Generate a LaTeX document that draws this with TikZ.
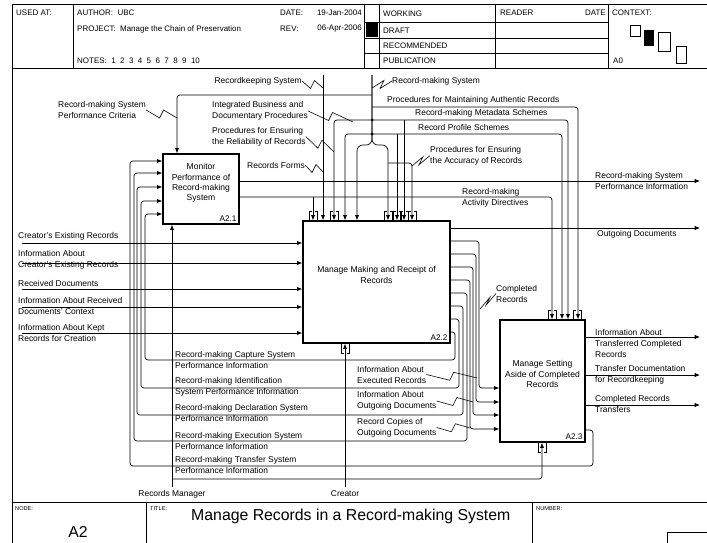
\documentclass[tikz,border=0pt]{standalone}
\usepackage{fontspec}
\setmainfont{Liberation Sans}
\usetikzlibrary{positioning,arrows.meta,calc}
\newcommand{\squig}[2]{\draw[leader] (#1) -- ($(#1)!0.5!(#2)+(-2,4)$) -- ($(#1)!0.5!(#2)+(2,-4)$) -- (#2);}
\newcommand{\tunneldn}[2]{\draw[tunnel] (#1-4,#2-1) -- (#1-4,#2-10) -- (#1-1.5,#2-10) (#1+4,#2-1) -- (#1+4,#2-10) -- (#1+1.5,#2-10);}
\newcommand{\tunnelup}[2]{\draw[tunnel] (#1-4,#2+1) -- (#1-4,#2+10) -- (#1-1.5,#2+10) (#1+4,#2+1) -- (#1+4,#2+10) -- (#1+1.5,#2+10);}

\begin{document}
\begin{tikzpicture}[x=0.03cm,y=-0.03cm,
    box/.style={draw,line width=1.1pt,inner sep=0pt},
    boxtxt/.style={align=center,inner sep=0pt,font=\fontsize{7.3}{8.8}\selectfont},
    boxid/.style={anchor=south east,inner sep=0pt,font=\fontsize{7}{8}\selectfont},
    arr/.style={-{Latex[length=4.5pt,width=3.6pt]},line width=0.6pt,rounded corners=2.5pt},
    leader/.style={line width=0.5pt},
    tunnel/.style={line width=0.4pt},
    lbl/.style={anchor=west,align=left,inner sep=0pt,font=\fontsize{7.2}{9.4}\selectfont},
    hdr/.style={anchor=west,inner sep=0pt,font=\fontsize{6.8}{8}\selectfont},
    tiny/.style={anchor=north west,inner sep=0pt,font=\fontsize{4.8}{5}\selectfont},
    frame/.style={line width=0.8pt}
]
\useasboundingbox (0,0) rectangle (707,543);

% title block
\draw[frame] (12,4) -- (707,4) (12,68) -- (707,68) (12,4) -- (12,543);
\draw[frame] (73,4) -- (73,68) (364,4) -- (364,68) (379,4) -- (379,68)
             (495,4) -- (495,68) (608,4) -- (608,68);
\draw[frame] (364,22) -- (608,22) (364,38) -- (608,38) (364,53) -- (608,53);
\fill (365.5,23.5) rectangle (378,37);
\node[hdr] (usedat) at (16,13) {USED AT:};
\node[hdr] (author) at (77,13) {AUTHOR:\ \ UBC};
\node[hdr] (project) at (77,29) {PROJECT:\ \ Manage the Chain of Preservation};
\node[hdr] (notes) at (77,61) {NOTES:\ \ 1\ \ 2\ \ 3\ \ 4\ \ 5\ \ 6\ \ 7\ \ 8\ \ 9\ \ 10};
\node[hdr] (date) at (280,13) {DATE:};
\node[hdr,anchor=east] (dateval) at (362,13) {19-Jan-2004};
\node[hdr] (rev) at (280,29) {REV:};
\node[hdr,anchor=east] (revval) at (362,29) {06-Apr-2006};
\node[hdr] (working) at (383,13.5) {WORKING};
\node[hdr] (draft) at (383,30.5) {DRAFT};
\node[hdr] (recomm) at (383,45.5) {RECOMMENDED};
\node[hdr] (publ) at (383,61) {PUBLICATION};
\node[hdr] (reader) at (500,13) {READER};
\node[hdr,anchor=east] (rdate) at (606,13) {DATE};
\node[hdr] (context) at (612,13) {CONTEXT:};
\node[hdr] (ctxnode) at (613,61) {A0};
\draw[line width=0.6pt] (630,25) rectangle (640,36);
\fill (644,30) rectangle (654,46);
\draw[line width=0.6pt] (658,32) rectangle (670,51);
\draw[line width=0.6pt] (676,46) rectangle (686,63);

\draw[frame] (12,502) -- (707,502) (146,502) -- (146,543) (532,502) -- (532,543);
\draw[frame] (667,532) rectangle (712,548);
\node[tiny] (nodelbl) at (15,506) {NODE:};
\node[font=\fontsize{13.5}{15}\selectfont,inner sep=0pt] (nodeid) at (78,532) {A2};
\node[tiny] (titlelbl) at (150,506) {TITLE:};
\node[anchor=west,inner sep=0pt,font=\fontsize{13.5}{15}\selectfont] (title) at (191,516) {Manage Records in a Record-making System};
\node[tiny] (numlbl) at (536,506) {NUMBER:};

% activities
\node[box,minimum width=2.28cm,minimum height=2.1cm] (a21) at (201,189) {};
\node[boxtxt] (a21t) at (201,183) {Monitor\\Performance of\\Record-making\\System};
\node[boxid] (a21id) at ($(a21.south east)+(-3,-3)$) {A2.1};
\node[box,minimum width=4.41cm,minimum height=3.66cm] (a22) at (376.5,282) {};
\node[boxtxt] (a22t) at (376.5,275) {Manage Making and Receipt of\\Records};
\node[boxid] (a22id) at ($(a22.south east)+(-3,-3)$) {A2.2};
\node[box,minimum width=2.55cm,minimum height=3.66cm] (a23) at (542.5,381) {};
\node[boxtxt] (a23t) at (542.5,374) {Manage Setting\\Aside of Completed\\Records};
\node[boxid] (a23id) at ($(a23.south east)+(-3,-3)$) {A2.3};

% controls
\coordinate (rks) at (323,75);
\coordinate (rms) at (372,75);
\coordinate (rmsfork) at (372,145);
\draw[arr] (rks) -- (rks |- a22.north);
\draw[arr,rounded corners=5pt] (rms) -- (rmsfork) -| (357,0 |- a22.north);
\draw[arr,rounded corners=5pt] (rms) -- (rmsfork) -| (388,0 |- a22.north);
\draw[arr] (388,163) -| (412,0 |- a22.north);
\draw[arr] (372,95) -| (177,0 |- a21.north);
\draw[arr] (372,107) -| (578,0 |- a23.north);
\draw[arr] (372,120) -| (568,0 |- a23.north);
\draw[arr] (372,120) -| (334,0 |- a22.north);
\draw[arr] (404,120) -- (404,0 |- a22.north);
\draw[arr] (372,134) -| (562,0 |- a23.north);
\draw[arr] (372,134) -| (345,0 |- a22.north);
\draw[arr] (397,134) -- (397,0 |- a22.north);
\fill (372,120) circle[radius=1.5] (372,134) circle[radius=1.5];

\node[lbl,anchor=east] (lrks) at (302,81) {Recordkeeping System};
\node[lbl] (lrms) at (392,81) {Record-making System};
\node[lbl] (lcrit) at (58,110) {Record-making System\\Performance Criteria};
\node[lbl] (lint) at (212,111) {Integrated Business and\\Documentary Procedures};
\node[lbl] (lrel) at (212,136.5) {Procedures for Ensuring\\the Reliability of Records};
\node[lbl] (lforms) at (247,165) {Records Forms};
\node[lbl] (lacc) at (430,155.5) {Procedures for Ensuring\\the Accuracy of Records};
\node[lbl] (lauth) at (387,100.5) {Procedures for Maintaining Authentic Records};
\node[lbl] (lmeta) at (415,113.5) {Record-making Metadata Schemes};
\node[lbl] (lprof) at (418,127.5) {Record Profile Schemes};
\squig{lrks.east}{323,88}
\squig{lrms.west}{372,88}
\squig{lcrit.east}{177,118}
\squig{lint.east}{353,122}
\squig{lrel.east}{334,152}
\squig{lforms.east}{323,172}
\squig{lacc.west}{412,166}

% outputs of A2.1
\coordinate (pinfo) at (700,181);
\draw[arr] (a21.east |- pinfo) -- (pinfo);
\draw[arr] (a21.east |- 0,197) -| (552,0 |- a23.north);
\draw[arr] (313,197) -- (313,0 |- a22.north);
\node[lbl] (lpinfo) at (595,180.5) {Record-making System\\Performance Information};
\node[lbl] (ldir) at (462,197.5) {Record-making\\Activity Directives};

% inputs of A2.2
\coordinate (in1) at (22,243);
\coordinate (in2) at (22,263);
\coordinate (in3) at (22,289);
\coordinate (in4) at (22,307);
\coordinate (in5) at (22,333);
\foreach \p in {in1,in2,in3,in4,in5}
  \draw[arr] (\p) -- (a22.west |- \p);
\node[lbl] (lin1) at (18,236) {Creator's Existing Records};
\node[lbl] (lin2) at (18,260) {Information About\\Creator's Existing Records};
\node[lbl] (lin3) at (18,283) {Received Documents};
\node[lbl] (lin4) at (18,306) {Information About Received\\Documents' Context};
\node[lbl] (lin5) at (18,332.5) {Information About Kept\\Records for Creation};

% outputs of A2.2
\coordinate (outdoc) at (700,228);
\draw[arr] (a22.east |- outdoc) -- (outdoc);
\node[lbl,anchor=north west] (lout) at (597,230) {Outgoing Documents};
\foreach \yo/\xv/\yd in {241/479/388, 254/476/402, 267/473/415, 280/470/429}
  \draw[arr] (a22.east |- 0,\yo) -| (\xv,\yd) -- (a23.west |- 0,\yd);
\foreach \yo/\xv/\yd/\xc/\yt in {293/467/441/134/173, 306/463/415/137/187, 319/459/388/141/201, 332/455/360/145/214}
  \draw[arr] (a22.east |- 0,\yo) -| (\xv,\yd) -| (\xc,\yt) -- (a21.west |- 0,\yt);
\node[lbl] (lcomp) at (496,293.5) {Completed\\Records};
\node[lbl] (lexe) at (357,374.5) {Information About\\Executed Records};
\node[lbl] (loutinfo) at (357,401) {Information About\\Outgoing Documents};
\node[lbl] (lcopies) at (357,427.5) {Record Copies of\\Outgoing Documents};
\squig{lcomp.west}{480,309}
\squig{lexe.east}{477,378}
\squig{loutinfo.east}{473,402}
\squig{lcopies.east}{470,428}

% outputs of A2.3
\coordinate (tr1) at (700,337);
\coordinate (tr2) at (700,375);
\coordinate (tr3) at (700,405);
\foreach \p in {tr1,tr2,tr3}
  \draw[arr] (a23.east |- \p) -- (\p);
\draw[arr] (a23.east |- 0,430) -| (593,466) -| (130,161) -- (a21.west |- 0,161);
\node[lbl] (ltr1) at (595,343) {Information About\\Transferred Completed\\Records};
\node[lbl] (ltr2) at (595,374.5) {Transfer Documentation\\for Recordkeeping};
\node[lbl] (ltr3) at (595,404) {Completed Records\\Transfers};

% performance feedback labels
\node[lbl] (lfb1) at (175,360) {Record-making Capture System\\Performance Information};
\node[lbl] (lfb2) at (175,386.5) {Record-making Identification\\System Performance Information};
\node[lbl] (lfb3) at (175,413) {Record-making Declaration System\\Performance Information};
\node[lbl] (lfb4) at (175,441) {Record-making Execution System\\Performance Information};
\node[lbl] (lfb5) at (175,464.5) {Record-making Transfer System\\Performance Information};

% mechanisms
\coordinate (mgr) at (172,487);
\coordinate (crt) at (345,487);
\draw[arr] (mgr) -- (mgr |- a21.south);
\draw[arr] (172,479) -| (542,0 |- a23.south);
\draw[arr] (crt) -- (crt |- a22.south);
\node[lbl,anchor=center] (lmgr) at (172,494) {Records Manager};
\node[lbl,anchor=center] (lcrt) at (345,494) {Creator};

% tunnels
\foreach \xt in {313,334,388,397,404,412} {\tunneldn{\xt}{221}}
\foreach \xt in {552,577} {\tunneldn{\xt}{320}}
\tunnelup{345}{343}
\tunnelup{542}{442}
\end{tikzpicture}
\end{document}
